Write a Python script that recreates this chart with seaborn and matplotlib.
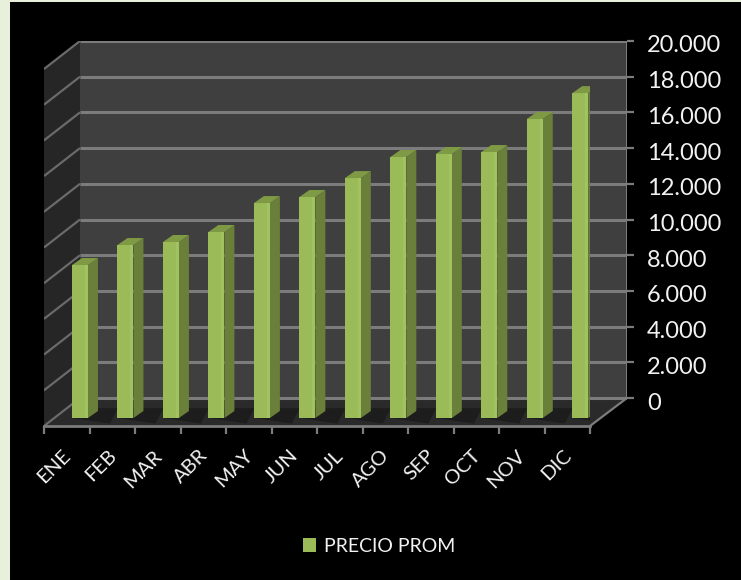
import matplotlib
matplotlib.use("Agg")
import matplotlib.pyplot as plt
from matplotlib.patches import Rectangle
from matplotlib.ticker import FuncFormatter
from matplotlib.transforms import ScaledTranslation
import pandas as pd
import seaborn as sns

months = ["ENE", "FEB", "MAR", "ABR", "MAY", "JUN", "JUL", "AGO", "SEP", "OCT", "NOV", "DIC"]
precio = [8570, 9690, 9860, 10420, 12040, 12380, 13440, 14620, 14790, 14900, 16750, 18200]
series_name = "PRECIO PROM"
y_ticks = list(range(0, 20001, 2000))

W, H = 741, 580
sns.set_theme(style="white")
plt.rcParams["font.family"] = ["Lato", "DejaVu Sans"]
LIGHT = "#e8f0dc"; GRID = "#7c7c7c"; TEXT = "#f2f2f2"

fig = plt.figure(figsize=(W / 100, H / 100), dpi=100, facecolor=LIGHT)
fig.add_artist(Rectangle((10 / W, 0), 1 - 10 / W, 1 - 2 / H, transform=fig.transFigure,
                         facecolor="black", edgecolor="none", zorder=-5))


def px_axes(l, r, t, b):
    return fig.add_axes([l / W, 1 - b / H, (r - l) / W, (b - t) / H])


# Back plane: walls, floor, gridlines and the value axis
back = px_axes(44, 627, 41, 426)
back.patch.set_alpha(0)
unit = 20000 / 357          # value units per pixel on the wall
drop = 28 * unit            # vertical depth of the floor
depth = 36
front_w, full_w = 546, 583
back.set_xlim(0, full_w)
back.set_ylim(-drop, 20000)
back.fill([depth, full_w, full_w, depth], [0, 0, 20000, 20000], color="#3f3f3f", lw=0)
back.fill([0, depth, depth, 0], [-drop, 0, 20000, 20000 - drop], color="#262626", lw=0)
back.fill([0, front_w, full_w, depth], [-drop, -drop, 0, 0], color="#2a2a2a", lw=0)
for v in y_ticks:
    back.plot([depth, full_w], [v, v], color=GRID, lw=2.2, solid_capstyle="butt")
    back.plot([0, depth], [v - drop, v], color="#6a6a6a", lw=1.6, solid_capstyle="butt")
back.plot([front_w, full_w], [-drop, 0], color=GRID, lw=1.6)
back.plot([full_w, full_w], [0, 20000], color=GRID, lw=2.2)
back.set_xticks([])
for s in back.spines.values():
    s.set_visible(False)
back.yaxis.tick_right()
back.set_yticks(y_ticks)
back.yaxis.set_major_formatter(FuncFormatter(lambda v, _: f"{int(v):,}".replace(",", ".")))
back.tick_params(axis="y", length=5, width=1.6, color=GRID, pad=9.5, labelsize=17, labelcolor=TEXT, right=True)
down = ScaledTranslation(0, -3 / 100, fig.dpi_scale_trans)
for lab in back.get_yticklabels():
    lab.set_transform(lab.get_transform() + down)

# Front plane: bars and category axis
front = px_axes(44, 590, 61, 426)
front.patch.set_alpha(0)
df = pd.DataFrame({"mes": months, "precio": precio})
sns.barplot(data=df, x="mes", y="precio", order=months, color="#9bbb59", saturation=1,
            width=16 / 45.5, label=series_name, ax=front, zorder=3)
front.set_xlim(-36 / 45.5, 510 / 45.5)
front.set_ylim(-8 * unit, 357 * unit)
bdx, bdy = 10 / 45.5, 7 * unit
for bar in front.patches:
    x0, x1, v = bar.get_x(), bar.get_x() + bar.get_width(), bar.get_height()
    bar.set_linewidth(0)
    w = x1 - x0
    # floor shadow, side face, top face, highlight strip
    front.fill([x0, x1 + 2.2 * bdx, x1 + 3 * bdx, x1], [0, -5.5 * unit, 1.4 * bdy, 1.4 * bdy],
               color="#1d1d1d", lw=0, zorder=2)
    front.fill([x1, x1 + bdx, x1 + bdx, x1], [0, bdy, v + bdy, v], color="#6a7f3a", lw=0, zorder=3)
    front.fill([x0, x1, x1 + bdx, x0 + bdx], [v, v, v + bdy, v + bdy], color="#7f9a45", lw=0, zorder=3)
    front.fill([x1 - 0.2 * w, x1, x1, x1 - 0.2 * w], [0, 0, v, v], color="#a1c260", lw=0, zorder=4)
shift = 18 / 45.5
boundary = 13 / 45.5
front.set_xticks([i - shift for i in range(len(months))])
front.set_xticklabels(months, rotation=45, ha="right", rotation_mode="anchor")
front.set_xticks([i - boundary - 0.5 for i in range(len(months) + 1)], minor=True)
front.tick_params(axis="x", which="major", length=0, pad=15, labelsize=14.5, labelcolor=TEXT, bottom=True)
front.tick_params(axis="x", which="minor", length=6, width=1.6, color=GRID, bottom=True)
front.set_yticks([])
front.set_xlabel(""); front.set_ylabel("")
for name, s in front.spines.items():
    s.set_visible(name == "bottom")
front.spines["bottom"].set_color(GRID)
front.spines["bottom"].set_linewidth(2)

leg = front.legend(loc="center", bbox_to_anchor=(379 / W, 1 - 546 / H), bbox_transform=fig.transFigure,
                   frameon=False, fontsize=14, handlelength=0.7, handleheight=0.7, handletextpad=0.4)
for t in leg.get_texts():
    t.set_color(TEXT)

fig.savefig("out.png", dpi=100, facecolor=fig.get_facecolor())
